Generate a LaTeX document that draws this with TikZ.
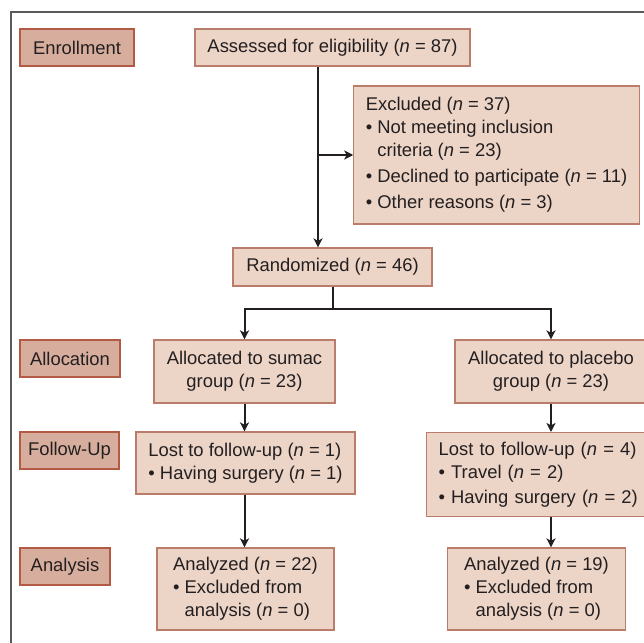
\documentclass[tikz,border=0pt]{standalone}
\usepackage{fontspec}
\setmainfont{Liberation Sans}
\usepackage{xcolor}
\definecolor{cStage}{HTML}{D7AE9D}
\definecolor{cStageEdge}{HTML}{B25A43}
\definecolor{cBox}{HTML}{ECD4C7}
\definecolor{cBoxEdge}{HTML}{BB7D6B}
\definecolor{cFrame}{HTML}{5A5A5A}
\definecolor{cInk}{HTML}{231F20}
\usepackage{tikz}
\usetikzlibrary{positioning,arrows.meta,calc}
\newcommand{\nn}[1]{(\textit{n} = #1)}
\newcommand{\bull}{\textbullet\ }
\newcommand{\bhang}{\hphantom{\textbullet\ }}
\tikzset{
  node-stage/.style={draw=cStageEdge,fill=cStage,line width=0.6pt,
    minimum height=18.5pt,inner sep=0pt,align=center,text=cInk,
    font=\fontsize{9.2}{11}\selectfont},
  node-box/.style={draw=cBoxEdge,fill=cBox,line width=0.6pt,
    inner xsep=6pt,inner ysep=3pt,align=center,text=cInk,
    font=\fontsize{9.2}{11.5}\selectfont},
  node-list/.style={node-box,align=left},
  arrow/.style={-{Stealth[length=4.5pt,width=4.5pt,inset=1.2pt]},line width=1pt,draw=cInk},
  link/.style={line width=1pt,draw=cInk},
  frame/.style={line width=0.8pt,draw=cFrame},
}
\begin{document}
\begin{tikzpicture}[x=0.5pt,y=-0.5pt]
  \clip (0,0) rectangle (644,643);
  \draw[frame] (11,700) -- (11,12) -- (700,12);

  % stages on the left
  \node[node-stage,minimum width=57pt] (enroll) at (77,47.5) {Enrollment};
  \node[node-stage,minimum width=50pt] (alloc) at (70,358.5) {Allocation};
  \node[node-stage,minimum width=49.5pt] (follow) at (69.5,450.5) {Follow-Up};
  \node[node-stage,minimum width=45pt] (analysis) at (65,566.5) {Analysis};

  % enrollment
  \node[node-box,minimum width=137.5pt,minimum height=18.5pt] (assess) at (332.5,47.5)
    {Assessed for eligibility \nn{87}};
  \node[node-list,minimum width=140.5pt,minimum height=69pt] (excl) at (496.5,155)
    {Excluded \nn{37}\\ \bull Not meeting inclusion\\ \bhang criteria \nn{23}\\[1.5pt]
     \bull Declined to participate \nn{11}\\[1.5pt] \bull Other reasons \nn{3}};
  \node[node-box,minimum width=99.5pt,minimum height=19pt] (rand) at (332.5,267)
    {Randomized \nn{46}};

  % two arms
  \node[node-box,minimum width=90.5pt,minimum height=31.5pt] (allocS) at (244.5,371.5)
    {Allocated to sumac\\ group \nn{23}};
  \node[node-box,minimum width=96pt,minimum height=31.5pt] (allocP) at (551,371.5)
    {Allocated to placebo\\ group \nn{23}};
  \node[node-list,minimum width=109.5pt,minimum height=31pt] (lostS) at (245.5,463)
    {Lost to follow-up \nn{1}\\ \bull Having surgery \nn{1}};
  \node[node-list,anchor=north west,text width=112pt,minimum height=42pt] (lostP) at (426,432)
    {Lost to follow-up \nn{4}\\ \bull Travel \nn{2}\\[1pt] \bull Having surgery \nn{2}};
  \node[node-list,minimum width=88.5pt,minimum height=41pt] (anaS) at (245.5,589)
    {Analyzed \nn{22}\\ \bull Excluded from\\ \bhang analysis \nn{0}};
  \node[node-list,minimum width=89pt,minimum height=41pt] (anaP) at (536.5,589)
    {Analyzed \nn{19}\\ \bull Excluded from\\ \bhang analysis \nn{0}};

  % connectors
  \coordinate (split) at (318,155);
  \draw[link] (assess.south -| split) -- (split);
  \draw[arrow] (split) -- (rand.north -| split);
  \draw[arrow] (split) -- (excl.west |- split);
  \draw[link] (rand.south) -- ++(0,22) coordinate (fork);
  \draw[arrow] (fork) -| (allocS.north);
  \draw[arrow] (fork) -| (allocP.north);
  \draw[arrow] (allocS.south) -- (allocS.south |- lostS.north);
  \draw[arrow] (allocP.south) -- (allocP.south |- lostP.north);
  \draw[arrow] (lostS.south -| allocS.south) -- (allocS.south |- anaS.north);
  \draw[arrow] (lostP.south -| allocP.south) -- (allocP.south |- anaP.north);
\end{tikzpicture}
\end{document}
